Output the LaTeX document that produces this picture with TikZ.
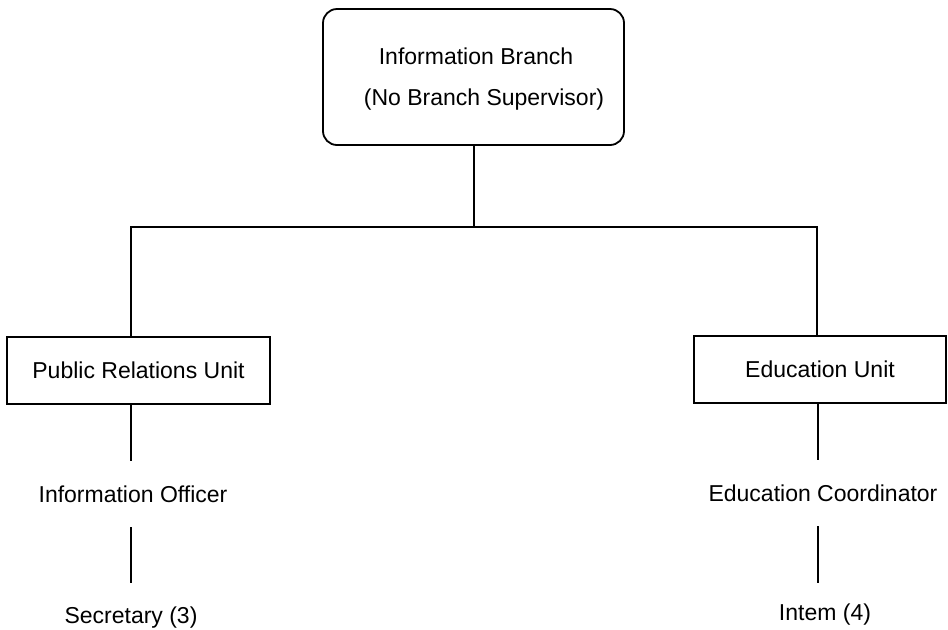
\documentclass[tikz,border=0pt]{standalone}
\usepackage{fontspec}
\setmainfont{Liberation Sans}
\begin{document}
\begin{tikzpicture}[x=0.5pt,y=-0.5pt,
  line/.style={draw=black,line width=0.9pt},
  txt/.style={font=\fontsize{11.5}{13}\selectfont,inner sep=0pt,text=black},
  rbox/.style={line,rounded corners=7pt,minimum width=150.5pt,minimum height=68pt,inner sep=0pt},
  ubox/.style={line,txt,minimum width=131.5pt,minimum height=33.5pt},
  ubox2/.style={line,txt,minimum width=126pt,minimum height=33.5pt},
  staff/.style={txt,minimum height=33pt}]
\useasboundingbox (0,0) rectangle (948,629);
% top box
\node[rbox] (top) at (473.5,77) {};
\node[txt] (topA) at (476,56) {Information Branch};
\node[txt] (topB) at (484,100) {(No Branch Supervisor)};
% units
\node[ubox] (pr) at (138.5,370.5) {Public Relations Unit};
\node[ubox2] (ed) at (820,369.5) {Education Unit};
% staff
\node[staff] (io) at (133,494) {Information Officer};
\node[staff,minimum height=35pt] (sec) at (131,618) {Secretary (3)};
\node[staff] (ec) at (823,493) {Education Coordinator};
\node[staff,minimum height=32pt] (int) at (825,615) {Intem (4)};
% connectors
\coordinate (j) at (474,227);
\coordinate (jl) at (131,227);
\coordinate (jr) at (817,227);
\coordinate (ll) at (131,0);
\coordinate (rl) at (818,0);
\draw[line] (top.south -| j) -- (j);
\draw[line] (pr.north -| jl) -- (jl) -- (jr) -- (ed.north -| jr);
\draw[line] (ll |- pr.south) -- (ll |- io.north);
\draw[line] (ll |- io.south) -- (ll |- sec.north);
\draw[line] (rl |- ed.south) -- (rl |- ec.north);
\draw[line] (rl |- ec.south) -- (rl |- int.north);
\end{tikzpicture}
\end{document}
